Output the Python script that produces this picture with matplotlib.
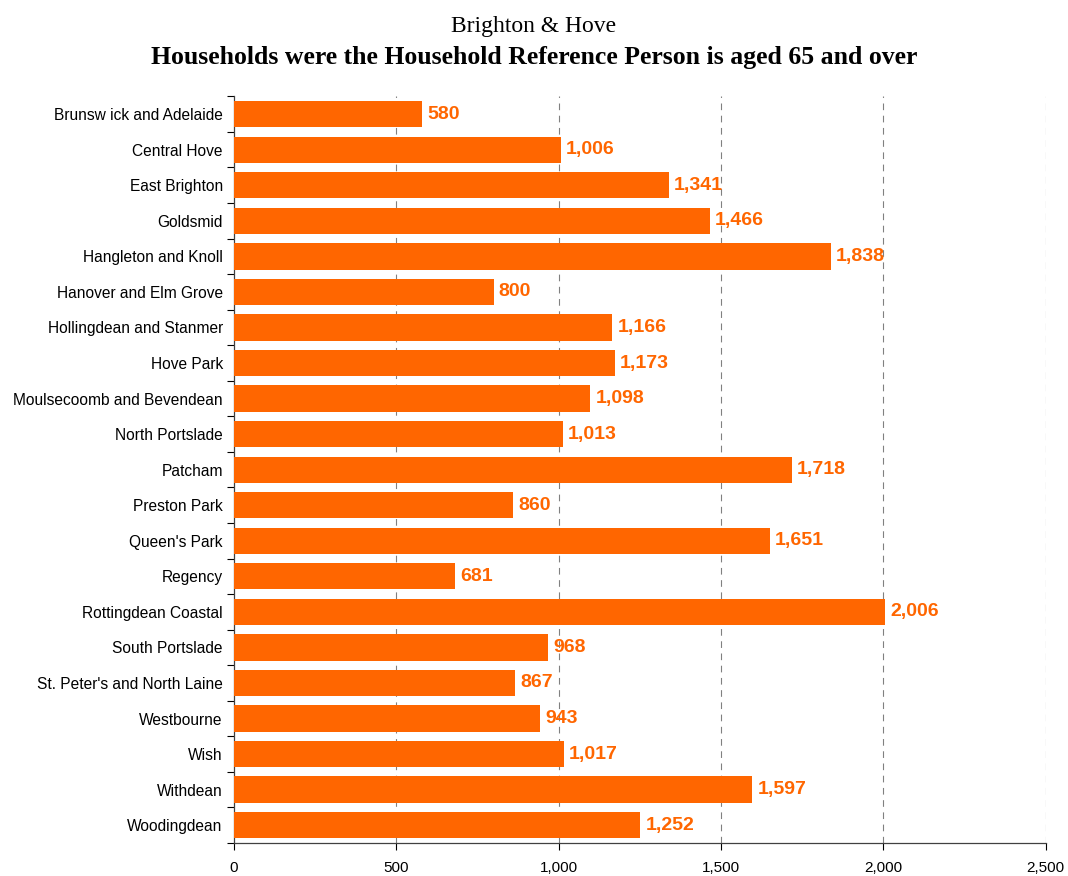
import matplotlib
matplotlib.use("Agg")
import matplotlib.pyplot as plt
from matplotlib import font_manager as fm
from matplotlib.ticker import FuncFormatter, MultipleLocator

wards = ["Brunsw ick and Adelaide", "Central Hove", "East Brighton", "Goldsmid",
         "Hangleton and Knoll", "Hanover and Elm Grove", "Hollingdean and Stanmer",
         "Hove Park", "Moulsecoomb and Bevendean", "North Portslade", "Patcham",
         "Preston Park", "Queen's Park", "Regency", "Rottingdean Coastal",
         "South Portslade", "St. Peter's and North Laine", "Westbourne", "Wish",
         "Withdean", "Woodingdean"]
values = [580, 1006, 1341, 1466, 1838, 800, 1166, 1173, 1098, 1013, 1718,
          860, 1651, 681, 2006, 968, 867, 943, 1017, 1597, 1252]
title_line1 = "Brighton & Hove"
title_line2 = "Households were the Household Reference Person is aged 65 and over"

names = {f.name for f in fm.fontManager.ttflist}
sans = "Liberation Sans Narrow" if "Liberation Sans Narrow" in names else "Liberation Sans"
serif = "Liberation Serif"

orange = "#FF6600"

fig = plt.figure(figsize=(10.68, 8.76), dpi=100)
ax = fig.add_axes([0.219, 0.0377, 0.760, 0.8523])

n = len(wards)
ypos = list(range(n))
ax.barh(ypos, values, height=0.74, color=orange, zorder=3)
ax.set_ylim(n - 0.5, -0.5)
ax.set_xlim(0, 2500)

ax.set_yticks(ypos)
ax.set_yticklabels(wards, fontsize=11.2, family=sans)
ax.tick_params(axis="y", length=0, pad=8)
ax.set_yticks([i - 0.5 for i in range(n + 1)], minor=True)
ax.tick_params(axis="y", which="minor", length=5, direction="out", width=0.8)

ax.xaxis.set_major_locator(MultipleLocator(500))
ax.xaxis.set_major_formatter(FuncFormatter(lambda v, p: f"{int(v):,}"))
ax.tick_params(axis="x", length=5, width=0.8, pad=8, labelsize=11)
for lab in ax.get_xticklabels():
    lab.set_family(sans)

for x in [500, 1000, 1500, 2000, 2500]:
    ax.axvline(x, color="#808080", linestyle=(0, (6, 5)), linewidth=0.8, zorder=1)

for s in ["top", "right"]:
    ax.spines[s].set_visible(False)
for s in ["left", "bottom"]:
    ax.spines[s].set_linewidth(0.9)
    ax.spines[s].set_color("#404040")

for y, v in zip(ypos, values):
    ax.text(v + 15, y, f"{v:,}", va="center", ha="left", color=orange,
            fontsize=14, fontweight="bold", family=sans, zorder=4)

fig.text(0.5, 0.970, title_line1, ha="center", va="center", fontsize=17, family=serif)
fig.text(0.5, 0.934, title_line2, ha="center", va="center", fontsize=18.5,
         fontweight="bold", family=serif)

fig.savefig("out.png", dpi=100)
